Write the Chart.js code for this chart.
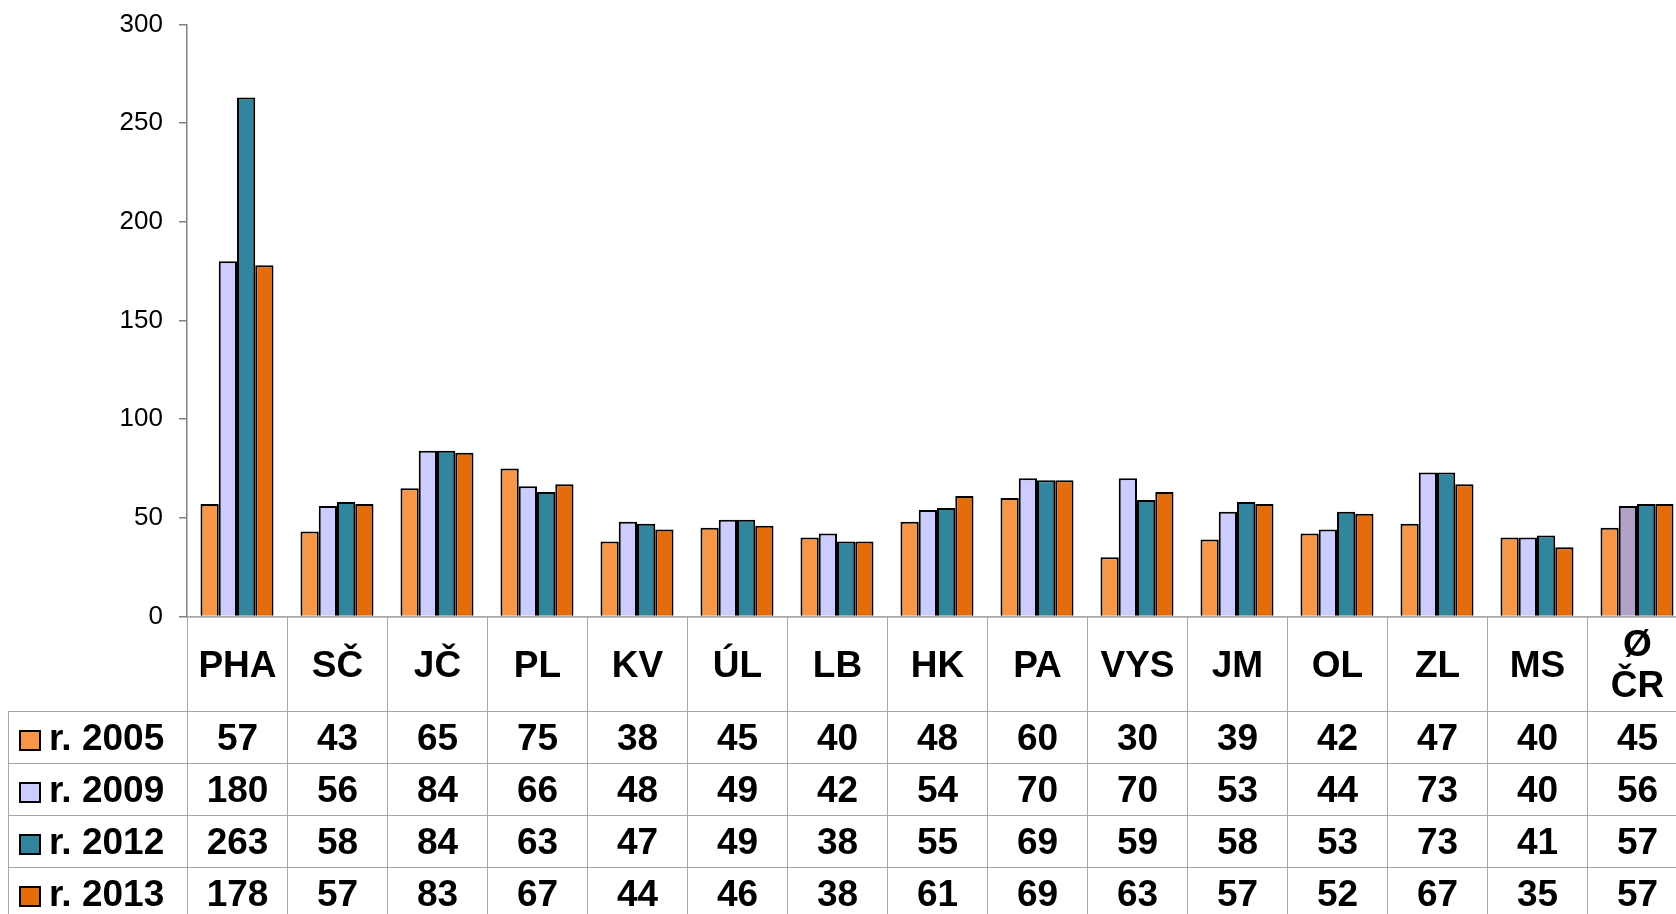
<!DOCTYPE html>
<html lang="cs">
<head>
<meta charset="UTF-8">
<title>Kraje 2005-2013</title>
<script src="https://cdn.jsdelivr.net/npm/chart.js"></script>
<style>
  html, body { margin: 0; padding: 0; background: #fff; overflow: hidden; width: 1676px; height: 914px; }
  body { font-family: "Liberation Sans", Arial, sans-serif; position: relative; }
  #wrap { position: absolute; left: 0; top: -7px; }
  #tbl { position: absolute; border-collapse: collapse; table-layout: fixed; }
  #tbl td { border: 1.5px solid #a6a6a6; text-align: center; font-weight: bold; font-size: 37px;
            color: #000; padding: 0; line-height: 41px; }
  #tbl td.blank { border: none; }
  #tbl td.leg { text-align: left; padding-left: 10px; white-space: nowrap; }
  .sw { display: inline-block; width: 18px; height: 17px; border: 2px solid #000; margin-right: 8px; vertical-align: -1px; }
</style>
</head>
<body>
<div id="wrap"><canvas id="chart" width="1700" height="655"></canvas></div>
<table id="tbl"></table>

<script>
// data
const categories = ['PHA', 'SČ', 'JČ', 'PL', 'KV', 'ÚL', 'LB', 'HK', 'PA', 'VYS', 'JM', 'OL', 'ZL', 'MS', 'Ø ČR'];
const seriesLabels = ['r. 2005', 'r. 2009', 'r. 2012', 'r. 2013'];
const values2005 = [57, 43, 65, 75, 38, 45, 40, 48, 60, 30, 39, 42, 47, 40, 45];
const values2009 = [180, 56, 84, 66, 48, 49, 42, 54, 70, 70, 53, 44, 73, 40, 56];
const values2012 = [263, 58, 84, 63, 47, 49, 38, 55, 69, 59, 58, 53, 73, 41, 57];
const values2013 = [178, 57, 83, 67, 44, 46, 38, 61, 69, 63, 57, 52, 67, 35, 57];
const yTicks = [0, 50, 100, 150, 200, 250, 300];

const seriesValues = [values2005, values2009, values2012, values2013];
const colors = ['#F79646', '#CCCCFF', '#31859C', '#E46C0A'];
// the average bar of 2009 is shaded differently in the original
const colors2009 = categories.map((c, i) => i === categories.length - 1 ? '#B3A2C7' : colors[1]);

const chart = new Chart(document.getElementById('chart'), {
    type: 'bar',
    data: {
        labels: categories,
        datasets: seriesLabels.map((name, i) => ({
            label: name,
            data: seriesValues[i],
            backgroundColor: i === 1 ? colors2009 : colors[i],
            borderColor: '#000',
            borderWidth: 2,
            categoryPercentage: 0.73,
            barPercentage: 1.0
        }))
    },
    options: {
        responsive: false,
        animation: false,
        layout: { padding: { top: 16, bottom: 3, left: 0, right: 13 } },
        plugins: { legend: { display: false }, tooltip: { enabled: false } },
        scales: {
            x: {
                ticks: { display: false },
                grid: { display: false, drawTicks: false },
                border: { display: true, color: '#808080', width: 1.5 },
                afterFit: s => { s.height = 0; }
            },
            y: {
                min: yTicks[0],
                max: yTicks[yTicks.length - 1],
                afterBuildTicks: s => { s.ticks = yTicks.map(v => ({ value: v })); },
                ticks: { color: '#000', font: { family: 'Liberation Sans', size: 26 }, padding: 16 },
                grid: { drawOnChartArea: false, drawTicks: true, tickLength: 8, color: '#808080', lineWidth: 1.5 },
                border: { display: true, color: '#808080', width: 1.5 },
                afterFit: s => { s.width = 187; }
            }
        }
    }
});

// table under the chart, aligned to the category scale
function buildTable() {
    const xs = chart.scales.x;
    const colW = xs.width / categories.length;
    const firstLeft = 8;
    const legW = xs.left - firstLeft;
    const wrapTop = document.getElementById('wrap').offsetTop;
    const tbl = document.getElementById('tbl');
    tbl.style.left = firstLeft + 'px';
    tbl.style.top = (chart.chartArea.bottom + wrapTop) + 'px';
    let html = '<colgroup><col style="width:' + legW + 'px">';
    categories.forEach(() => { html += '<col style="width:' + colW + 'px">'; });
    html += '</colgroup>';
    html += '<tr style="height:95px"><td class="blank"></td>';
    categories.forEach(c => { html += '<td>' + c.split(' ').join('<br>') + '</td>'; });
    html += '</tr>';
    seriesLabels.forEach((name, i) => {
        html += '<tr style="height:52px"><td class="leg"><span class="sw" style="background:' + colors[i] + '"></span>' + name + '</td>';
        seriesValues[i].forEach(v => { html += '<td>' + v + '</td>'; });
        html += '</tr>';
    });
    tbl.innerHTML = html;
    tbl.style.width = (legW + colW * categories.length) + 'px';
}
buildTable();
</script>
</body>
</html>
